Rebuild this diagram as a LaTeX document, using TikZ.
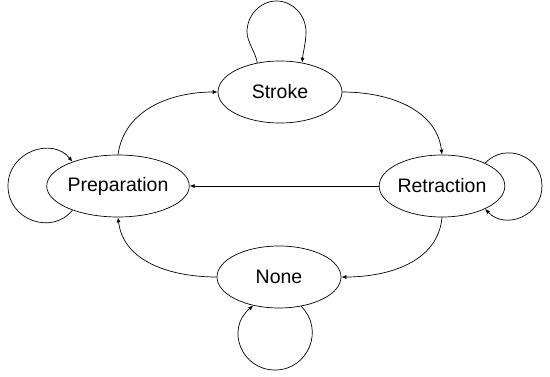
\documentclass[tikz,border=0pt]{standalone}
\usepackage{fontspec}
\setmainfont{Liberation Sans}
\usetikzlibrary{arrows.meta,shapes.geometric}
\begin{document}
\begin{tikzpicture}[x=1pt,y=-1pt,
  state/.style={ellipse,draw,line width=0.7pt,minimum width=124pt,minimum height=62pt,inner sep=0pt,font=\fontsize{19.5}{23}\selectfont},
  edge/.style={draw,line width=0.7pt,-{Latex[length=5pt,width=4pt]}}]
\useasboundingbox (0,0) rectangle (550,377);
\node[state] (S) at (280,92) {Stroke};
\node[state] (P) at (118,186) {Preparation};
\node[state] (R) at (442,186) {Retraction};
\node[state] (N) at (279,277) {None};
% loops
\draw[edge] (S.128) .. controls (256,53) and (247,42) .. (247,32)
  .. controls (247,15.5) and (260,1) .. (276.5,1)
  .. controls (293,1) and (306,15.5) .. (306,32)
  .. controls (306,42) and (303,53) .. (S.53);
\draw[edge] (P.208) .. controls (52.5,235.3) and (8,220.7) .. (8,186)
  .. controls (8,151.3) and (52.5,136.7) .. (P.152);
\draw[edge] (R.28) .. controls (505.3,141.8) and (542,155.9) .. (542,186)
  .. controls (542,216.1) and (505.3,230.2) .. (R.-28);
\draw[edge] (N.-53) .. controls (324.7,328.9) and (308.7,370) .. (275,370)
  .. controls (241.3,370) and (225.3,328.9) .. (N.-132);
% transitions
\draw[edge] (P.90) to[out=82,in=180] (S.180);
\draw[edge] (S.0) to[out=0,in=97] (R.90);
\draw[edge] (R.180) -- (P.0);
\draw[edge] (R.270) to[out=-95,in=0] (N.0);
\draw[edge] (N.180) to[out=180,in=-83] (P.270);
\end{tikzpicture}
\end{document}
